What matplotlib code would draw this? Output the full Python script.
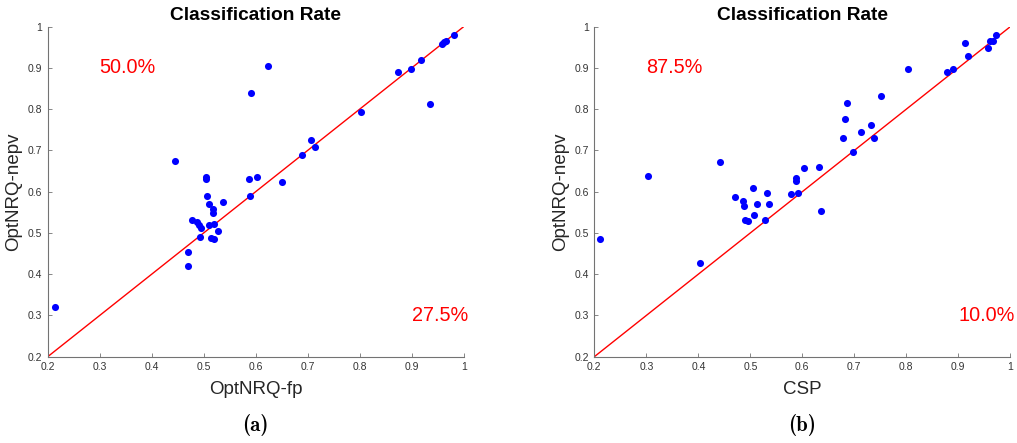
import os
import matplotlib
matplotlib.use("Agg")
import matplotlib.pyplot as plt
from matplotlib.font_manager import FontProperties

# panel (a): OptNRQ-fp vs OptNRQ-nepv
fp_x = [0.215, 0.470, 0.470, 0.504, 0.504, 0.587, 0.602, 0.651, 0.507, 0.590,
        0.537, 0.511, 0.517, 0.517, 0.477, 0.487, 0.491, 0.495, 0.511, 0.520,
        0.527, 0.493, 0.514, 0.520, 0.444, 0.591, 0.624, 0.690, 0.706, 0.714,
        0.802, 0.874, 0.898, 0.918, 0.935, 0.958, 0.962, 0.966, 0.982]
fp_y = [0.320, 0.454, 0.421, 0.635, 0.630, 0.630, 0.635, 0.624, 0.589, 0.590,
        0.574, 0.570, 0.557, 0.548, 0.531, 0.527, 0.519, 0.511, 0.519, 0.522,
        0.505, 0.491, 0.488, 0.485, 0.674, 0.839, 0.905, 0.688, 0.726, 0.708,
        0.792, 0.891, 0.897, 0.918, 0.812, 0.957, 0.962, 0.966, 0.981]

# panel (b): CSP vs OptNRQ-nepv
csp_x = [0.210, 0.304, 0.404, 0.441, 0.470, 0.485, 0.488, 0.490, 0.495, 0.505,
         0.507, 0.512, 0.528, 0.532, 0.535, 0.578, 0.588, 0.588, 0.592, 0.604,
         0.632, 0.635, 0.698, 0.679, 0.682, 0.685, 0.712, 0.733, 0.738, 0.752,
         0.803, 0.879, 0.889, 0.913, 0.919, 0.958, 0.961, 0.966, 0.973]
csp_y = [0.486, 0.637, 0.428, 0.671, 0.588, 0.577, 0.565, 0.531, 0.528, 0.608,
         0.544, 0.569, 0.531, 0.598, 0.571, 0.594, 0.632, 0.627, 0.596, 0.657,
         0.661, 0.554, 0.695, 0.731, 0.777, 0.815, 0.745, 0.761, 0.731, 0.831,
         0.897, 0.890, 0.897, 0.960, 0.928, 0.948, 0.965, 0.966, 0.981]

panels = [
    (fp_x, fp_y, "OptNRQ-fp", "50.0%", "27.5%", "(a)"),
    (csp_x, csp_y, "CSP", "87.5%", "10.0%", "(b)"),
]

ticks = [0.2, 0.3, 0.4, 0.5, 0.6, 0.7, 0.8, 0.9, 1.0]
tick_labels = ["0.2", "0.3", "0.4", "0.5", "0.6", "0.7", "0.8", "0.9", "1"]

plt.rcParams["font.family"] = ["Liberation Sans", "DejaVu Sans"]

# computer modern bold for the subfigure tags
cmb = os.path.join(matplotlib.get_data_path(), "fonts", "ttf", "cmb10.ttf")
tag_font = FontProperties(fname=cmb, size=15)

fig = plt.figure(figsize=(10.17, 4.43), dpi=100)
lefts = [0.0469, 0.5844]

for left, (xs, ys, xlab, up_txt, low_txt, tag) in zip(lefts, panels):
    ax = fig.add_axes([left, 0.1948, 0.409, 0.745])
    ax.plot([0.2, 1], [0.2, 1], color="red", lw=1)
    ax.scatter(xs, ys, s=26, color="blue", zorder=3, linewidths=0)
    ax.set_xlim(0.2, 1)
    ax.set_ylim(0.2, 1)
    ax.set_xticks(ticks)
    ax.set_xticklabels(tick_labels)
    ax.set_yticks(ticks)
    ax.set_yticklabels(tick_labels)
    for side in ["top", "right"]:
        ax.spines[side].set_visible(False)
    for side in ["left", "bottom"]:
        ax.spines[side].set_color("0.45")
        ax.spines[side].set_linewidth(0.8)
    ax.tick_params(direction="in", length=3, width=0.6, color="0.45",
                   labelsize=7.5, labelcolor="0.2", pad=4)
    ax.set_title("Classification Rate", fontsize=13.8, fontweight="bold", pad=5)
    ax.set_xlabel(xlab, fontsize=13.5, color="0.15", labelpad=6)
    ax.set_ylabel("OptNRQ-nepv", fontsize=13.5, color="0.15", labelpad=4)
    ax.text(0.3, 0.9, up_txt, color="red", fontsize=14.3, va="center", ha="left")
    ax.text(0.9, 0.3, low_txt, color="red", fontsize=14.3, va="center", ha="left")
    fig.text(left + 0.2045, 0.04, tag, fontproperties=tag_font,
             ha="center", va="center")

fig.savefig("out.png", dpi=100)
